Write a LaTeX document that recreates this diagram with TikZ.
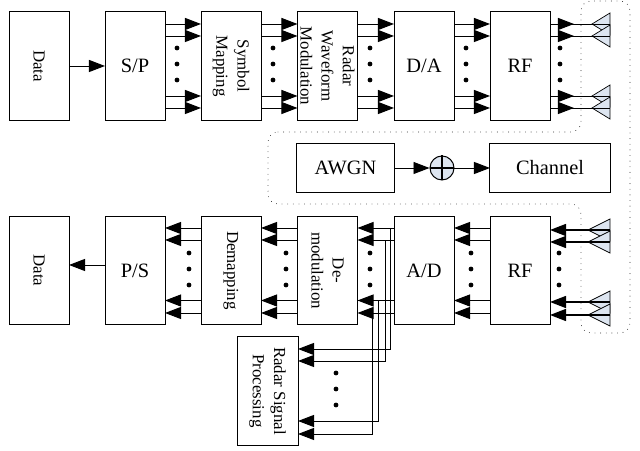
\documentclass[tikz,border=0pt]{standalone}
\usepackage{xcolor}
\usepackage{fontspec}
\setmainfont{Liberation Serif}
\usepackage{tikz}
\usetikzlibrary{arrows.meta}

\newcommand{\vdotsat}[2]{\fill (#1,#2-16) circle (2.4) (#1,#2) circle (2.4) (#1,#2+16) circle (2.4);}

\begin{document}
\begin{tikzpicture}[x=0.025cm, y=-0.025cm, line width=0.7pt,
    >={Triangle[length=0.4cm, width=0.3cm]},
    blockbox/.style={draw, inner sep=0pt, outer sep=0pt, minimum width=1.5cm, minimum height=2.7cm},
    widebox/.style={draw, inner sep=0pt, outer sep=0pt, minimum height=1.2cm, font=\fontsize{14.5}{16}\selectfont},
    bigtext/.style={font=\fontsize{14.5}{16}\selectfont},
    sidetext/.style={rotate=-90, align=center, inner sep=0pt, font=\fontsize{12}{15}\selectfont}]
      \useasboundingbox (0,0) rectangle (640,451);
      \definecolor{antfill}{HTML}{DDE5F0}

      % rows of the parallel lines
      \coordinate (t1) at (0,24); \coordinate (t2) at (0,36); \coordinate (t3) at (0,96); \coordinate (t4) at (0,108);
      \coordinate (b1) at (0,228); \coordinate (b2) at (0,240); \coordinate (b3) at (0,300.5); \coordinate (b4) at (0,313);
      \coordinate (r1) at (0,349); \coordinate (r2) at (0,361); \coordinate (r3) at (0,421); \coordinate (r4) at (0,434);
      \coordinate (v1) at (390,0); \coordinate (v2) at (385,0); \coordinate (v3) at (378,0); \coordinate (v4) at (372,0);

      % dotted channel outline
      \draw[line width=0.6pt, line cap=round, dash pattern=on 0pt off 4pt, rounded corners=0.25cm]
        (268,132) -- (581,132) -- (581,1) -- (630,1) -- (630,333) -- (581,333) -- (581,204) -- (268,204) -- cycle;

      % transmitter
      \node[blockbox] (datatx) at (39,66) {};
      \node[blockbox, bigtext] (sp) at (135,66) {S/P};
      \node[blockbox] (sm) at (231,66) {};
      \node[blockbox] (rw) at (327.5,66) {};
      \node[blockbox, bigtext] (da) at (424,66) {D/A};
      \node[blockbox, bigtext] (rftx) at (520,66) {RF};
      \node[sidetext] (datatxlabel) at (datatx) {Data};
      \node[sidetext] (smlabel) at (sm) {Symbol\\Mapping};
      \node[sidetext] (rwlabel) at (rw) {Radar\\Waveform\\Modulation};

      \draw[->] (datatx) -- (sp);
      \foreach \from/\to in {sp/sm, sm/rw, rw/da, da/rftx} {
        \foreach \row in {t1,t2,t3,t4} {
          \draw[->] (\from.east |- \row) -- (\to.west |- \row);
        }
      }
      \vdotsat{177}{64} \vdotsat{273}{64} \vdotsat{370}{64} \vdotsat{466}{64} \vdotsat{560}{64}

      % transmit antennas
      \foreach \y [count=\i] in {24,36,96,108} {
        \draw[fill=antfill, line width=0.5pt] (592,\y) -- (610,\y-11) -- (610,\y+11) -- cycle;
        \coordinate (txant\i) at (610,\y);
        \coordinate (txtip\i) at (574,\y);
        \draw (rftx.east |- txant\i) -- (txant\i);
        \draw[->] (rftx.east |- txant\i) -- (txtip\i);
      }

      % channel
      \node[widebox, minimum width=2.425cm] (awgn) at (345.5,168) {AWGN};
      \node[draw, circle, fill=antfill, inner sep=0pt, minimum size=0.6cm] (sum) at (442,168) {};
      \node[widebox, minimum width=3cm] (chan) at (550,168) {Channel};
      \draw[line width=1.6pt] (sum.north) -- (sum.south) (sum.west) -- (sum.east);
      \draw[->] (awgn) -- (sum);
      \draw[->] (sum) -- (chan);

      % receiver
      \node[blockbox] (datarx) at (39,270.5) {};
      \node[blockbox, bigtext] (ps) at (135,270.5) {P/S};
      \node[blockbox] (dm) at (231,270.5) {};
      \node[blockbox] (dmod) at (327.5,270.5) {};
      \node[blockbox, bigtext] (ad) at (424,270.5) {A/D};
      \node[blockbox, bigtext] (rfrx) at (520,270.5) {RF};
      \node[sidetext] (datarxlabel) at (datarx) {Data};
      \node[sidetext] (dmlabel) at (dm) {Demapping};
      \node[sidetext] (dmodlabel) at (dmod) {De-\\modulation};

      \coordinate (dataleft) at (0,265);
      \draw[->] (ps.west |- dataleft) -- (datarx.east |- dataleft);
      \foreach \from/\to in {dm/ps, dmod/dm, ad/dmod, rfrx/ad} {
        \foreach \row in {b1,b2,b3,b4} {
          \draw[->] (\from.west |- \row) -- (\to.east |- \row);
        }
      }
      \vdotsat{189}{269} \vdotsat{286}{269} \vdotsat{370}{269} \vdotsat{471}{269} \vdotsat{559}{269}

      % receive antennas
      \foreach \y [count=\i] in {230,242,302,315} {
        \draw[fill=antfill, line width=0.5pt] (588,\y) -- (610,\y-11) -- (610,\y+11) -- cycle;
        \coordinate (rxant\i) at (610,\y);
        \draw[->, line width=1pt] (rxant\i) -- (rfrx.east |- rxant\i);
      }

      % radar processing
      \node[draw, inner sep=0pt, outer sep=0pt, minimum width=1.525cm, minimum height=2.7cm] (rsp) at (267.5,391) {};
      \node[sidetext] (rsplabel) at (rsp) {Radar Signal\\Processing};
      \foreach \i in {1,2,3,4} {
        \draw[->] (ad.west |- b\i) -| (v\i |- r\i) -- (rsp.east |- r\i);
      }
      \vdotsat{336}{389}
    \end{tikzpicture}
\end{document}
